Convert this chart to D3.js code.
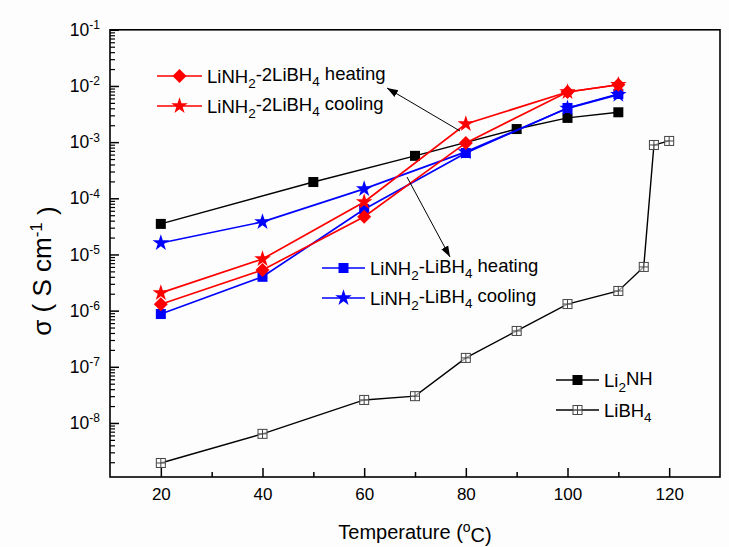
<!DOCTYPE html>
<html>
<head>
<meta charset="utf-8">
<script src="https://d3js.org/d3.v7.min.js"></script>
<style>
  body { margin: 0; background: #ffffff; }
  text { font-family: Arial, "Liberation Sans", sans-serif; fill: #000; }
</style>
</head>
<body>
<div id="vis"></div>
<script>
  // temperatures (oC)
  var tempMix = [20, 40, 60, 80, 100, 110]
  var tempLi2NH = [20, 50, 70, 90, 100, 110]
  var tempLiBH4 = [20, 40, 60, 70, 80, 90, 100, 110, 115, 117, 120]

  // conductivity values (S cm-1)
  var mix2Heating = [1.3e-6, 5.3e-6, 4.7e-5, 9.7e-4, 7.8e-3, 1.05e-2]
  var mix2Cooling = [2.07e-6, 8.3e-6, 8.6e-5, 2.1e-3, 7.8e-3, 1.05e-2]
  var mix1Heating = [8.7e-7, 4.0e-6, 6.4e-5, 6.4e-4, 4.06e-3, 7.2e-3]
  var mix1Cooling = [1.6e-5, 3.8e-5, 1.47e-4, 6.7e-4, 4.0e-3, 7.0e-3]
  var li2nhValues = [3.5e-5, 1.95e-4, 5.7e-4, 1.71e-3, 2.7e-3, 3.4e-3]
  var libh4Values = [1.94e-9, 6.4e-9, 2.57e-8, 3.0e-8, 1.44e-7, 4.35e-7, 1.31e-6, 2.24e-6, 6.0e-6, 8.9e-4, 1.05e-3]

  // tick values
  var xTicks = [20, 40, 60, 80, 100, 120]
  var xMinorTicks = [30, 50, 70, 90, 110]
  var yExponents = [-8, -7, -6, -5, -4, -3, -2, -1]

  var svg = d3.select("#vis")
    .append("svg")
      .attr("width", 729)
      .attr("height", 547)

  svg.append("rect").attr("width", 729).attr("height", 547).attr("fill", "#fdfdfd")

  // plot box (note: "top" is a reserved global in browsers)
  var plotLeft = 110, plotRight = 720, plotTop = 29.8, plotBottom = 477

  var x = d3.scaleLinear().domain([10, 130]).range([plotLeft, plotRight])
  var y = d3.scaleLog().domain([Math.pow(10, -8.962), 1e-1]).range([plotBottom, plotTop])

  // minor ticks of the log axis
  var yMinor = []
  for (var e = -9; e < -1; e++) {
    for (var m = 2; m <= 9; m++) {
      var v = m * Math.pow(10, e)
      if (v >= y.domain()[0] && v <= 1e-1) yMinor.push(v)
    }
  }

  // X axis (ticks inside)
  var xAxis = svg.append("g")
    .attr("transform", "translate(0," + plotBottom + ")")
    .call(d3.axisBottom(x).tickValues(xTicks).tickSize(-9).tickPadding(11))
  xAxis.select(".domain").remove()
  xAxis.selectAll("text").style("font-size", "17px")
  xAxis.selectAll("line").attr("stroke-width", 1.5)

  var xAxisMinor = svg.append("g")
    .attr("transform", "translate(0," + plotBottom + ")")
    .call(d3.axisBottom(x).tickValues(xMinorTicks).tickSize(-5).tickFormat(""))
  xAxisMinor.select(".domain").remove()
  xAxisMinor.selectAll("line").attr("stroke-width", 1.5)

  // Y axis (ticks inside, 10^n labels)
  var yAxis = svg.append("g")
    .attr("transform", "translate(" + plotLeft + ",0)")
    .call(d3.axisLeft(y).tickValues(yExponents.map(function(d) { return Math.pow(10, d) })).tickSize(-9).tickPadding(10))
  yAxis.select(".domain").remove()
  yAxis.selectAll("line").attr("stroke-width", 1.5)
  yAxis.selectAll(".tick text")
    .style("font-size", "17.5px")
    .each(function(d) {
      var t = d3.select(this)
      t.text(null)
      t.append("tspan").text("10")
      t.append("tspan").attr("dy", "-0.55em").style("font-size", "12px").text(Math.round(Math.log10(d)))
    })

  var yAxisMinor = svg.append("g")
    .attr("transform", "translate(" + plotLeft + ",0)")
    .call(d3.axisLeft(y).tickValues(yMinor).tickSize(-5).tickFormat(""))
  yAxisMinor.select(".domain").remove()
  yAxisMinor.selectAll("line").attr("stroke-width", 1.2)

  // frame
  svg.append("rect")
    .attr("x", plotLeft).attr("y", plotTop)
    .attr("width", plotRight - plotLeft).attr("height", plotBottom - plotTop)
    .attr("fill", "none").attr("stroke", "black").attr("stroke-width", 1.6)

  // axis titles
  var xTitle = svg.append("text")
    .attr("x", (plotLeft + plotRight) / 2).attr("y", 539)
    .attr("text-anchor", "middle")
    .style("font-size", "20px")
  xTitle.append("tspan").text("Temperature (")
  xTitle.append("tspan").attr("dy", "-0.5em").style("font-size", "14px").text("o")
  xTitle.append("tspan").attr("dy", "0.5em").text("C)")

  var yTitle = svg.append("text")
    .attr("transform", "translate(51,271) rotate(-90)")
    .attr("text-anchor", "middle")
    .style("font-size", "26px")
  yTitle.append("tspan").text("\u03c3 ( S cm")
  yTitle.append("tspan").attr("dy", "-0.55em").style("font-size", "17px").text("-1")
  yTitle.append("tspan").attr("dy", "0.55em").text(" )")

  // marker drawing
  function drawMarker(g, type, color, cx, cy) {
    if (type == "square") {
      g.append("rect").attr("x", cx - 5).attr("y", cy - 5).attr("width", 10).attr("height", 10).attr("fill", color)
    } else if (type == "diamond") {
      g.append("path").attr("d", "M" + cx + "," + (cy - 7) + "L" + (cx + 7) + "," + cy + "L" + cx + "," + (cy + 7) + "L" + (cx - 7) + "," + cy + "Z").attr("fill", color)
    } else if (type == "star") {
      g.append("path").attr("d", d3.symbol().type(d3.symbolStar).size(85)()).attr("transform", "translate(" + cx + "," + cy + ")").attr("fill", color)
    } else if (type == "crossSquare") {
      g.append("rect").attr("x", cx - 4.5).attr("y", cy - 4.5).attr("width", 9).attr("height", 9).attr("fill", "white").attr("fill-opacity", 0.6).attr("stroke", "#444").attr("stroke-width", 1)
      g.append("path").attr("d", "M" + (cx - 4.5) + "," + cy + "H" + (cx + 4.5) + "M" + cx + "," + (cy - 4.5) + "V" + (cy + 4.5)).attr("stroke", "#444").attr("stroke-width", 1)
    }
  }

  var line = d3.line()
    .x(function(d) { return x(d[0]) })
    .y(function(d) { return y(d[1]) })

  var series = [
    {temps: tempLiBH4, values: libh4Values, color: "black", marker: "crossSquare", width: 1.4},
    {temps: tempLi2NH, values: li2nhValues, color: "black", marker: "square", width: 1.4},
    {temps: tempMix, values: mix1Cooling, color: "#0000ff", marker: "star", width: 1.7},
    {temps: tempMix, values: mix1Heating, color: "#0000ff", marker: "square", width: 1.7},
    {temps: tempMix, values: mix2Cooling, color: "#ff0000", marker: "star", width: 1.7},
    {temps: tempMix, values: mix2Heating, color: "#ff0000", marker: "diamond", width: 1.7}
  ]

  series.forEach(function(s) {
    var pts = s.temps.map(function(t, i) { return [t, s.values[i]] })
    svg.append("path")
      .attr("d", line(pts))
      .attr("fill", "none")
      .attr("stroke", s.color)
      .attr("stroke-width", s.width)
    var g = svg.append("g")
    pts.forEach(function(p) { drawMarker(g, s.marker, s.color, x(p[0]), y(p[1])) })
  })

  // arrows
  svg.append("defs").append("marker")
    .attr("id", "arrow")
    .attr("viewBox", "0 0 10 10")
    .attr("refX", 10).attr("refY", 5)
    .attr("markerWidth", 11).attr("markerHeight", 11)
    .attr("markerUnits", "userSpaceOnUse")
    .attr("orient", "auto")
    .append("path").attr("d", "M0,1.5L10,5L0,8.5Z").attr("fill", "black")

  svg.append("line")
    .attr("x1", 460).attr("y1", 131).attr("x2", 387).attr("y2", 88)
    .attr("stroke", "black").attr("stroke-width", 1).attr("marker-end", "url(#arrow)")
  svg.append("line")
    .attr("x1", 407).attr("y1", 177).attr("x2", 450).attr("y2", 257)
    .attr("stroke", "black").attr("stroke-width", 1).attr("marker-end", "url(#arrow)")

  // legends
  var legends = [
    {x1: 157, x2: 202, y: 76, color: "#ff0000", marker: "diamond", parts: [["LiNH", 0], ["2", 1], ["-2LiBH", 0], ["4", 1], [" heating", 0]]},
    {x1: 157, x2: 202, y: 106, color: "#ff0000", marker: "star", parts: [["LiNH", 0], ["2", 1], ["-2LiBH", 0], ["4", 1], [" cooling", 0]]},
    {x1: 322, x2: 365, y: 268, color: "#0000ff", marker: "square", parts: [["LiNH", 0], ["2", 1], ["-LiBH", 0], ["4", 1], [" heating", 0]]},
    {x1: 322, x2: 365, y: 298, color: "#0000ff", marker: "star", parts: [["LiNH", 0], ["2", 1], ["-LiBH", 0], ["4", 1], [" cooling", 0]]},
    {x1: 556, x2: 599, y: 380, color: "black", marker: "square", parts: [["Li", 0], ["2", 1], ["NH", 0]]},
    {x1: 556, x2: 599, y: 410, color: "black", marker: "crossSquare", parts: [["LiBH", 0], ["4", 1]]}
  ]

  legends.forEach(function(l) {
    svg.append("line")
      .attr("x1", l.x1).attr("x2", l.x2).attr("y1", l.y).attr("y2", l.y)
      .attr("stroke", l.color).attr("stroke-width", l.color == "black" ? 1.4 : 1.7)
    drawMarker(svg.append("g"), l.marker, l.color, (l.x1 + l.x2) / 2, l.y)
    var t = svg.append("text")
      .attr("x", l.x2 + 5).attr("y", l.y + 7)
      .style("font-size", "18.5px")
    var sub = false
    l.parts.forEach(function(p) {
      var ts = t.append("tspan").text(p[0])
      if (p[1] == 1) {
        ts.attr("dy", "0.35em").style("font-size", "13.5px")
        sub = true
      } else if (sub) {
        ts.attr("dy", "-0.35em")
        sub = false
      }
    })
  })
</script>
</body>
</html>
